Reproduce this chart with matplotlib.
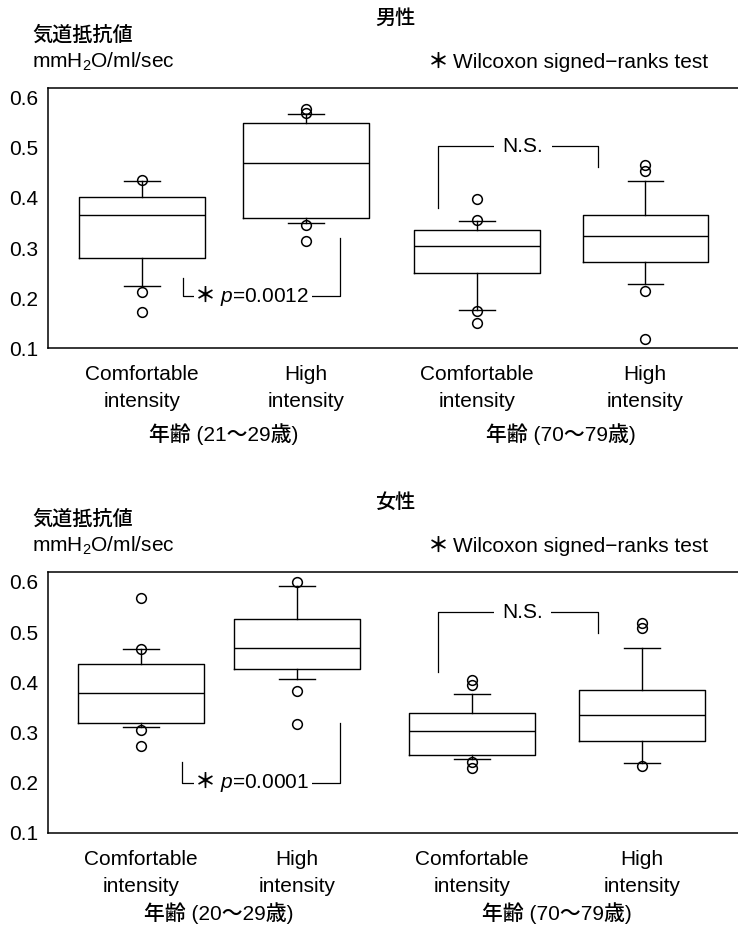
import matplotlib
matplotlib.use("Agg")
import matplotlib.pyplot as plt

# box statistics (airway resistance, mmH2O/ml/sec)
conditions = ["Comfortable\nintensity", "High\nintensity", "Comfortable\nintensity", "High\nintensity"]

# 男性 (top panel)
m_whislo = [0.223, 0.349, 0.177, 0.227]
m_q1 = [0.279, 0.359, 0.249, 0.271]
m_med = [0.365, 0.469, 0.303, 0.324]
m_q3 = [0.401, 0.549, 0.335, 0.366]
m_whishi = [0.433, 0.567, 0.354, 0.433]
m_fliers = [[0.436, 0.213, 0.171], [0.578, 0.569, 0.345, 0.313],
            [0.397, 0.356, 0.175, 0.151], [0.466, 0.453, 0.214, 0.119]]
m_groups = ["年齢 (21～29歳)", "年齢 (70～79歳)"]

# 女性 (bottom panel)
f_whislo = [0.310, 0.407, 0.247, 0.240]
f_q1 = [0.318, 0.427, 0.255, 0.283]
f_med = [0.378, 0.468, 0.302, 0.335]
f_q3 = [0.437, 0.526, 0.338, 0.385]
f_whishi = [0.466, 0.592, 0.376, 0.469]
f_fliers = [[0.568, 0.466, 0.305, 0.273], [0.599, 0.383, 0.317],
            [0.405, 0.395, 0.242, 0.229], [0.518, 0.508, 0.233]]
f_groups = ["年齢 (20～29歳)", "年齢 (70～79歳)"]

yticks = [0.1, 0.2, 0.3, 0.4, 0.5, 0.6]

plt.rcParams["font.family"] = ["Liberation Sans", "Noto Sans CJK JP", "DejaVu Sans"]
plt.rcParams["mathtext.fontset"] = "custom"
plt.rcParams["mathtext.rm"] = "Liberation Sans"
plt.rcParams["mathtext.it"] = "Liberation Sans:italic"

JP = ["Noto Sans CJK JP", "DejaVu Sans"]
W, H = 738, 927


def fx(px):
    return px / W


def fy(py):
    return 1 - py / H


def draw_panel(ax, top_px, title, whislo, q1, med, q3, whishi, fliers, groups,
               positions, group_off, ns_br, p_br, p_text):
    stats = []
    for i in range(4):
        stats.append(dict(whislo=whislo[i], q1=q1[i], med=med[i], q3=q3[i],
                          whishi=whishi[i], fliers=fliers[i]))
    lw = 1.0
    ax.bxp(stats, positions=positions, widths=0.745, capwidths=0.21,
           boxprops=dict(color="black", lw=lw),
           medianprops=dict(color="black", lw=lw),
           whiskerprops=dict(color="black", lw=lw),
           capprops=dict(color="black", lw=lw),
           flierprops=dict(marker="o", markersize=7, markerfacecolor="none",
                           markeredgecolor="black", markeredgewidth=1.1))
    ax.set_xlim(0.452, 4.551)
    ax.set_ylim(0.1, 0.62)
    ax.set_yticks(yticks)
    ax.set_yticklabels([f"{v:.1f}" for v in yticks])
    ax.set_xticks(positions)
    ax.set_xticklabels(conditions, linespacing=1.55)
    ax.tick_params(axis="y", length=0, pad=7, labelsize=15)
    ax.tick_params(axis="x", length=0, pad=12, labelsize=15)
    ax.spines["right"].set_visible(False)
    for s in ("left", "top", "bottom"):
        ax.spines[s].set_linewidth(1.1)

    # age group labels under each pair
    for k, g in enumerate(groups):
        mid = (positions[2 * k] + positions[2 * k + 1]) / 2
        ax.annotate(g, xy=(mid, 0), xycoords=ax.get_xaxis_transform(),
                    xytext=(0, group_off), textcoords="offset points",
                    ha="center", va="center", fontsize=15, weight=500)

    # N.S. bracket
    x0, x1, ytop, yl, yr = ns_br
    ax.plot([x0, x0, x1, x1], [yl, ytop, ytop, yr], color="black", lw=0.9)
    ax.text((x0 + x1) / 2 + 0.03, ytop, "N.S.", ha="center", va="center", fontsize=15,
            bbox=dict(facecolor="white", edgecolor="none", pad=6))

    # p-value bracket
    x0, x1, ybot, yl, yr = p_br
    ax.plot([x0, x0, x1, x1], [yl, ybot, ybot, yr], color="black", lw=0.9)
    pt = ax.text(1.474, ybot, p_text, ha="left", va="center", fontsize=15,
                 bbox=dict(facecolor="white", edgecolor="none", pad=2))
    ax.annotate("＊", xy=(0, 0.5), xycoords=pt, xytext=(-3, 1), textcoords="offset points",
                ha="right", va="center", fontsize=15, family=JP, weight="bold",
                annotation_clip=False,
                bbox=dict(facecolor="white", edgecolor="none", pad=1))

    # headings above the panel
    fig.text(fx(395), fy(top_px - 70), title, ha="center", va="center",
             fontsize=14.5, family=JP, weight=500)
    fig.text(fx(32), fy(top_px - 53), "気道抵抗値", ha="left", va="center",
             fontsize=14.5, family=JP, weight=500)
    fig.text(fx(32), fy(top_px - 26), r"mmH$_2$O/ml/sec", ha="left", va="center",
             fontsize=15)
    wt = fig.text(fx(708), fy(top_px - 25), "Wilcoxon signed−ranks test",
                  ha="right", va="center", fontsize=15)
    ax.annotate("＊", xy=(0, 0.5), xycoords=wt, xytext=(-3, 1), textcoords="offset points",
                ha="right", va="center", fontsize=15, family=JP, weight="bold",
                annotation_clip=False)


fig = plt.figure(figsize=(W / 100, H / 100), dpi=100)
ax_top = fig.add_axes([fx(48), fy(348), fx(690), 260 / H])
ax_bot = fig.add_axes([fx(48), fy(833), fx(690), 261.3 / H])

draw_panel(ax_top, 88, "男性", m_whislo, m_q1, m_med, m_q3, m_whishi, m_fliers, m_groups,
           [1.01, 1.984, 3.0, 4.0], -62,
           (2.767, 3.72, 0.503, 0.379, 0.461),
           (1.252, 2.187, 0.203, 0.239, 0.319),
           r"$p$=0.0012")
draw_panel(ax_bot, 572, "女性", f_whislo, f_q1, f_med, f_q3, f_whishi, f_fliers, f_groups,
           [1.004, 1.931, 2.971, 3.981], -58,
           (2.767, 3.718, 0.539, 0.421, 0.499),
           (1.246, 2.187, 0.200, 0.242, 0.318),
           r"$p$=0.0001")

fig.savefig("out.png", dpi=100)
